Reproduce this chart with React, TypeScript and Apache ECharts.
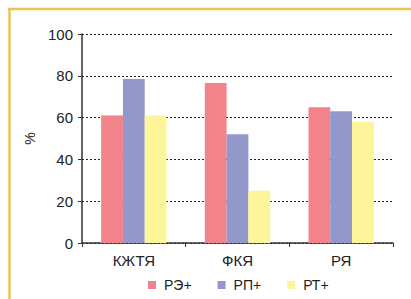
import React, { useEffect, useRef } from "react";
import * as echarts from "echarts";

const categories = ["КЖТЯ", "ФКЯ", "РЯ"];
const seriesNames = ["РЭ+", "РП+", "РТ+"];
const valuesRE = [61, 76.5, 65];
const valuesRP = [78.5, 52, 63];
const valuesRT = [61, 25, 58];
const colors = ["#f2838a", "#9497c9", "#fdf59a"];

export default function App() {
  const ref = useRef<HTMLDivElement>(null);
  useEffect(() => {
    if (!ref.current) return;
    const chart = echarts.init(ref.current, null, { renderer: "svg" });
    const font = "'Liberation Sans', Arial, sans-serif";
    const data = [valuesRE, valuesRP, valuesRT];
    chart.setOption({
      animation: false,
      backgroundColor: "#ffffff",
      textStyle: { fontFamily: font },
      graphic: [
        { type: "line", shape: { x1: 8, y1: 9, x2: 411, y2: 9 }, style: { stroke: "#e8c35a", lineWidth: 2.5 } },
        { type: "line", shape: { x1: 9.5, y1: 8, x2: 9.5, y2: 299 }, style: { stroke: "#e8c35a", lineWidth: 2.5 } },
      ],
      grid: { left: 82, right: 18, top: 34, bottom: 56, containLabel: false },
      legend: {
        bottom: 2,
        left: 143,
        itemWidth: 8,
        itemHeight: 8,
        itemGap: 26,
        icon: "rect",
        textStyle: { fontFamily: font, fontSize: 14, color: "#222", padding: [0, 0, 0, 3] },
        data: seriesNames,
      },
      xAxis: {
        type: "category",
        data: categories,
        axisLine: { lineStyle: { color: "#333", width: 1.5 } },
        axisTick: { show: true, length: 4, lineStyle: { color: "#333" } },
        axisLabel: { fontFamily: font, fontSize: 15, color: "#222", margin: 10 },
      },
      yAxis: {
        type: "value",
        min: 0,
        max: 100,
        interval: 20,
        name: "%",
        nameLocation: "middle",
        nameGap: 45,
        nameTextStyle: { fontFamily: font, fontSize: 14, color: "#222" },
        axisLine: { show: true, lineStyle: { color: "#333", width: 1.5 } },
        axisTick: { show: true, length: 4, lineStyle: { color: "#333" } },
        axisLabel: { fontFamily: font, fontSize: 15, color: "#222", margin: 9 },
        splitLine: { lineStyle: { color: "#222", type: [2, 2], width: 1 } },
      },
      series: seriesNames.map((name, i) => ({
        name,
        type: "bar",
        data: data[i],
        barGap: "0%",
        barCategoryGap: "37%",
        itemStyle: { color: colors[i] },
      })),
    });
    return () => chart.dispose();
  }, []);
  return <div ref={ref} style={{ position: "fixed", left: 0, top: 0, width: 411, height: 299 }} />;
}
